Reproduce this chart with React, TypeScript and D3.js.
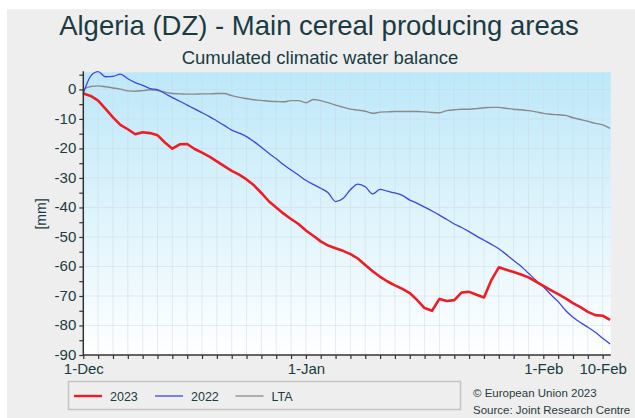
import React, { useEffect, useRef } from "react"
import * as d3 from "d3"

// one value every half tick step (tick = 1 step on the chart axis)
const values2023 = [
  -1.4, -2.2, -3.8, -6.6, -9.5, -12.0, -13.5, -15.2, -14.5, -14.8,
  -15.5, -18.0, -20.1, -18.6, -18.5, -20.2, -21.4, -22.8, -24.4, -26.0,
  -27.6, -28.9, -30.5, -32.5, -35.1, -37.9, -40.0, -42.1, -43.9, -45.6,
  -47.8, -49.6, -51.5, -52.9, -53.8, -54.7, -55.8, -57.3, -59.5, -61.6,
  -63.5, -65.1, -66.4, -67.6, -69.0, -71.4, -74.1, -75.0, -71.0, -71.7,
  -71.4, -68.8, -68.6, -69.6, -70.5, -64.6, -60.3, -61.1, -61.9, -62.7,
  -63.7, -65.1, -66.6, -68.0, -69.4, -70.8, -72.4, -73.8, -75.4, -76.5,
  -76.7, -78.1,
]

const values2022 = [
  -1.4, 4.5, 6.0, 4.3, 4.4, 5.2, 3.6, 2.3, 1.4, 0.3,
  -0.1, -1.4, -2.8, -4.0, -5.3, -6.6, -7.9, -9.2, -10.7, -12.2,
  -13.8, -14.8, -16.0, -17.7, -19.6, -21.6, -23.5, -25.5, -27.3, -29.0,
  -30.8, -32.2, -33.5, -35.0, -38.0, -37.0, -34.0, -32.1, -33.0, -35.4,
  -33.9, -34.5, -35.1, -35.9, -37.5, -38.6, -39.9, -41.2, -42.6, -44.1,
  -45.6, -46.8, -48.2, -49.7, -51.1, -52.5, -54.0, -55.9, -58.0, -59.9,
  -62.3, -64.7, -66.9, -69.5, -71.9, -74.9, -77.2, -79.0, -80.6, -82.3,
  -84.3, -86.3,
]

const valuesLTA = [
  0.1, 1.0, 1.2, 0.9, 0.5, 0.1, -0.5, -0.6, -0.4, -0.1,
  -0.4, -0.9, -1.4, -1.5, -1.6, -1.6, -1.5, -1.5, -1.4, -1.4,
  -2.1, -2.7, -3.1, -3.5, -3.7, -4.0, -4.1, -4.2, -3.8, -3.8,
  -4.5, -3.4, -3.8, -4.5, -5.3, -6.0, -6.7, -7.0, -7.4, -8.1,
  -7.7, -7.6, -7.5, -7.5, -7.5, -7.5, -7.6, -7.8, -7.9, -7.2,
  -6.9, -6.7, -6.7, -6.5, -6.2, -6.1, -6.1, -6.4, -6.7, -6.9,
  -7.2, -7.6, -8.1, -8.4, -8.6, -8.8, -9.6, -10.2, -10.8, -11.5,
  -12.0, -13.2,
]

const dateLabels = ["1-Dec", "1-Jan", "1-Feb", "10-Feb"]
const dateLabelIndex = [0, 30, 62, 70]
const yTickValues = [0, -10, -20, -30, -40, -50, -60, -70, -80, -90]
const seriesNames = ["2023", "2022", "LTA"]

const colors = { "2023": "#ee1d23", "2022": "#3b47e0", LTA: "#8a8a8a" }
const widths = { "2023": 2.6, "2022": 1.3, LTA: 1.4 }
const textColor = "#183c42"
const font = "'Liberation Sans', Arial, sans-serif"

export default function App() {
  const ref = useRef<SVGSVGElement>(null)

  useEffect(() => {
    const W = 635
    const H = 418
    const svg = d3.select(ref.current)
    svg.selectAll("*").remove()
    svg.attr("width", W).attr("height", H)

    svg.append("rect").attr("width", W).attr("height", H).attr("fill", "#ffffff")
    svg.append("rect").attr("x", 7).attr("y", 9).attr("width", W - 7).attr("height", H - 9).attr("fill", "#eeeeee")

    svg.append("text")
      .attr("x", 319).attr("y", 35)
      .attr("text-anchor", "middle")
      .style("font-family", font).style("font-size", "27.5px").style("fill", textColor)
      .text("Algeria (DZ) - Main cereal producing areas")

    svg.append("text")
      .attr("x", 320).attr("y", 64)
      .attr("text-anchor", "middle")
      .style("font-family", font).style("font-size", "18.5px").style("fill", textColor)
      .text("Cumulated climatic water balance")

    const x = d3.scaleLinear().domain([0, 71]).range([83.3, 610.1])
    const y = d3.scaleLinear().domain([-90, 5.8]).range([355, 72.3])
    const left = 83.3
    const right = 610.8
    const top = y(5.8)
    const bottom = y(-90)

    const grad = svg.append("defs").append("linearGradient")
      .attr("id", "bg").attr("x1", 0).attr("y1", 0).attr("x2", 0).attr("y2", 1)
    grad.append("stop").attr("offset", "0%").attr("stop-color", "#bde8f9")
    grad.append("stop").attr("offset", "100%").attr("stop-color", "#ffffff")

    svg.append("rect")
      .attr("x", left).attr("y", top)
      .attr("width", right - left).attr("height", bottom - top)
      .attr("fill", "url(#bg)")

    const grid = svg.append("g")
    grid.selectAll("line.v")
      .data(d3.range(2, 71, 2))
      .enter().append("line")
      .attr("x1", d => x(d)).attr("x2", d => x(d))
      .attr("y1", top).attr("y2", bottom)
      .attr("stroke", "#c9d8e0").attr("stroke-opacity", 0.45).attr("stroke-width", 1)
    grid.selectAll("line.h")
      .data(yTickValues.slice(0, -1))
      .enter().append("line")
      .attr("x1", left).attr("x2", right)
      .attr("y1", d => y(d)).attr("y2", d => y(d))
      .attr("stroke", "#c9d8e0").attr("stroke-opacity", 0.45).attr("stroke-width", 1)

    const allSeries = [
      { name: "LTA", values: valuesLTA, curve: d3.curveMonotoneX },
      { name: "2022", values: values2022, curve: d3.curveMonotoneX },
      { name: "2023", values: values2023, curve: d3.curveLinear },
    ]

    allSeries.forEach(s => {
      const line = d3.line<number>()
        .x((d, i) => x(i))
        .y(d => y(d))
        .curve(s.curve)
      svg.append("path")
        .attr("d", line(s.values))
        .attr("fill", "none")
        .attr("stroke", colors[s.name])
        .attr("stroke-width", widths[s.name])
        .attr("stroke-linejoin", "round")
    })

    const yAxis = svg.append("g")
      .attr("transform", "translate(" + left + ",0)")
      .call(
        d3.axisLeft(y)
          .tickValues(d3.range(-90, 6, 5))
          .tickSize(4)
          .tickSizeOuter(0)
          .tickPadding(3)
          .tickFormat(d => (yTickValues.includes(+d) ? String(d) : ""))
      )
    yAxis.select(".domain").attr("stroke", "#333").attr("stroke-width", 1.5)
      .attr("d", "M0," + (top - 1) + "V" + bottom)
    yAxis.selectAll(".tick line").attr("stroke", "#333").attr("stroke-width", 1.2)
    yAxis.selectAll(".tick text")
      .attr("dy", "0.3em")
      .style("font-family", font).style("font-size", "15px").style("fill", textColor)

    const xAxis = svg.append("g")
      .attr("transform", "translate(0," + bottom + ")")
      .call(
        d3.axisBottom(x)
          .tickValues(d3.range(0, 71, 2))
          .tickSize(4)
          .tickSizeOuter(0)
          .tickPadding(6)
          .tickFormat(d => {
            const k = dateLabelIndex.indexOf(+d)
            return k >= 0 ? dateLabels[k] : ""
          })
      )
    xAxis.select(".domain").attr("stroke", "#333").attr("stroke-width", 1.5)
      .attr("d", "M" + left + ",0H" + right)
    xAxis.selectAll(".tick line").attr("stroke", "#333").attr("stroke-width", 1.2)
    xAxis.selectAll(".tick text")
      .attr("dy", "0.62em")
      .style("font-family", font).style("font-size", "15px").style("fill", textColor)

    svg.append("text")
      .attr("transform", "translate(46,214) rotate(-90)")
      .attr("text-anchor", "middle")
      .style("font-family", font).style("font-size", "14px").style("fill", textColor)
      .text("[mm]")

    // legend
    svg.append("rect")
      .attr("x", 68.5).attr("y", 381.5).attr("width", 392).attr("height", 28)
      .attr("fill", "#eeeeee").attr("stroke", "#c4c4c4").attr("stroke-width", 1.5)

    const legend = svg.selectAll("g.legend")
      .data(seriesNames)
      .enter().append("g")
      .attr("transform", (d, i) => "translate(" + (74 + [0, 81, 161.5][i]) + ",396)")
    legend.append("line")
      .attr("x1", 0).attr("x2", 28)
      .attr("stroke", d => colors[d])
      .attr("stroke-width", d => (d === "2023" ? 2.4 : 1.3))
    legend.append("text")
      .attr("x", 36).attr("y", 4.5)
      .style("font-family", font).style("font-size", "12.5px").style("fill", textColor)
      .text(d => d)

    svg.append("text")
      .attr("x", 473).attr("y", 396.5)
      .style("font-family", font).style("font-size", "11.5px").style("fill", "#2a3a40")
      .text("© European Union 2023")
    svg.append("text")
      .attr("x", 473).attr("y", 414)
      .style("font-family", font).style("font-size", "11.5px").style("fill", "#2a3a40")
      .text("Source: Joint Research Centre")
  }, [])

  return (
    <svg ref={ref} style={{ position: "absolute", left: 0, top: 0 }}></svg>
  )
}
